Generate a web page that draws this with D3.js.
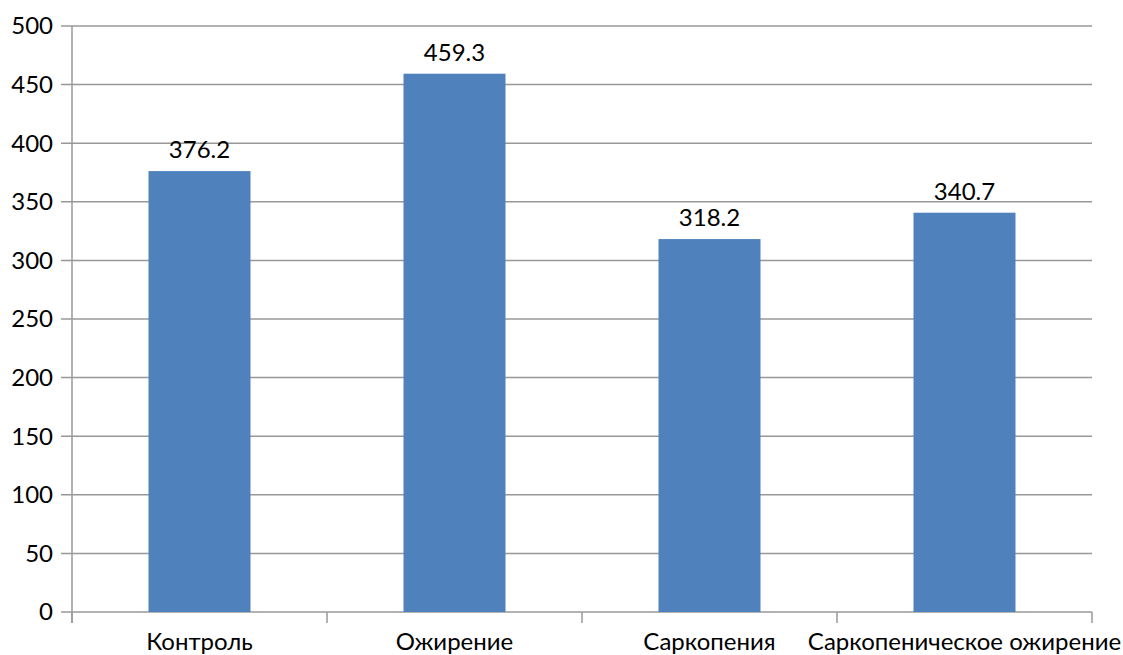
<!DOCTYPE html>
<html>
<head>
<meta charset="utf-8">
<script src="https://cdn.jsdelivr.net/npm/d3@7"></script>
<style>
body { margin: 0; background: #fff; }
text { font-family: Lato, "Open Sans", sans-serif; fill: #000; }
</style>
</head>
<body>
<div id="chart"></div>
<script>
let categories = ['Контроль', 'Ожирение', 'Саркопения', 'Саркопеническое ожирение'];
let values = [376.2, 459.3, 318.2, 340.7];
let yTicks = [0, 50, 100, 150, 200, 250, 300, 350, 400, 450, 500];

let w = 1123;
let h = 655;
let pLeft = 72, pRight = 1092, pTop = 26, pBottom = 612;
let fs = '24px';

let svg = d3.select('#chart').
append('svg').
attr('width', w).
attr('height', h);

let x = d3.scaleBand().
domain(categories).
range([pLeft, pRight]).
paddingInner(0.6).
paddingOuter(0.3);

let y = d3.scaleLinear().
domain([0, 500]).
range([pBottom, pTop]);

// gridlines + y ticks
svg.append('g').selectAll('line').
data(yTicks).
enter().
append('line').
attr('x1', pLeft - 11).
attr('x2', pRight).
attr('y1', d => y(d)).
attr('y2', d => y(d)).
attr('stroke', '#989898').
attr('stroke-width', 1.5);

svg.append('g').selectAll('text').
data(yTicks).
enter().
append('text').
attr('x', pLeft - 19).
attr('y', d => y(d)).
attr('dy', '0.35em').
attr('text-anchor', 'end').
style('font-size', fs).
text(d => d);

// bars
svg.append('g').selectAll('rect').
data(values).
enter().
append('rect').
attr('x', (d, i) => x(categories[i])).
attr('y', d => y(d)).
attr('width', x.bandwidth()).
attr('height', d => y(0) - y(d)).
attr('fill', '#4F81BD');

// value labels
svg.append('g').selectAll('text').
data(values).
enter().
append('text').
attr('x', (d, i) => x(categories[i]) + x.bandwidth() / 2).
attr('y', d => y(d) - 13).
attr('text-anchor', 'middle').
style('font-size', fs).
text(d => d.toFixed(1));

// y axis line
svg.append('line').
attr('x1', pLeft).
attr('x2', pLeft).
attr('y1', pTop).
attr('y2', pBottom + 11).
attr('stroke', '#989898').
attr('stroke-width', 1.5);

// x axis category boundaries
let step = (pRight - pLeft) / categories.length;
let bounds = d3.range(categories.length + 1).map(i => pLeft + i * step);
svg.append('g').selectAll('line').
data(bounds).
enter().
append('line').
attr('x1', d => d).
attr('x2', d => d).
attr('y1', pBottom).
attr('y2', pBottom + 11).
attr('stroke', '#989898').
attr('stroke-width', 1.5);

svg.append('g').selectAll('text').
data(categories).
enter().
append('text').
attr('x', d => x(d) + x.bandwidth() / 2).
attr('y', 650).
attr('text-anchor', 'middle').
style('font-size', fs).
text(d => d);
</script>
</body>
</html>
